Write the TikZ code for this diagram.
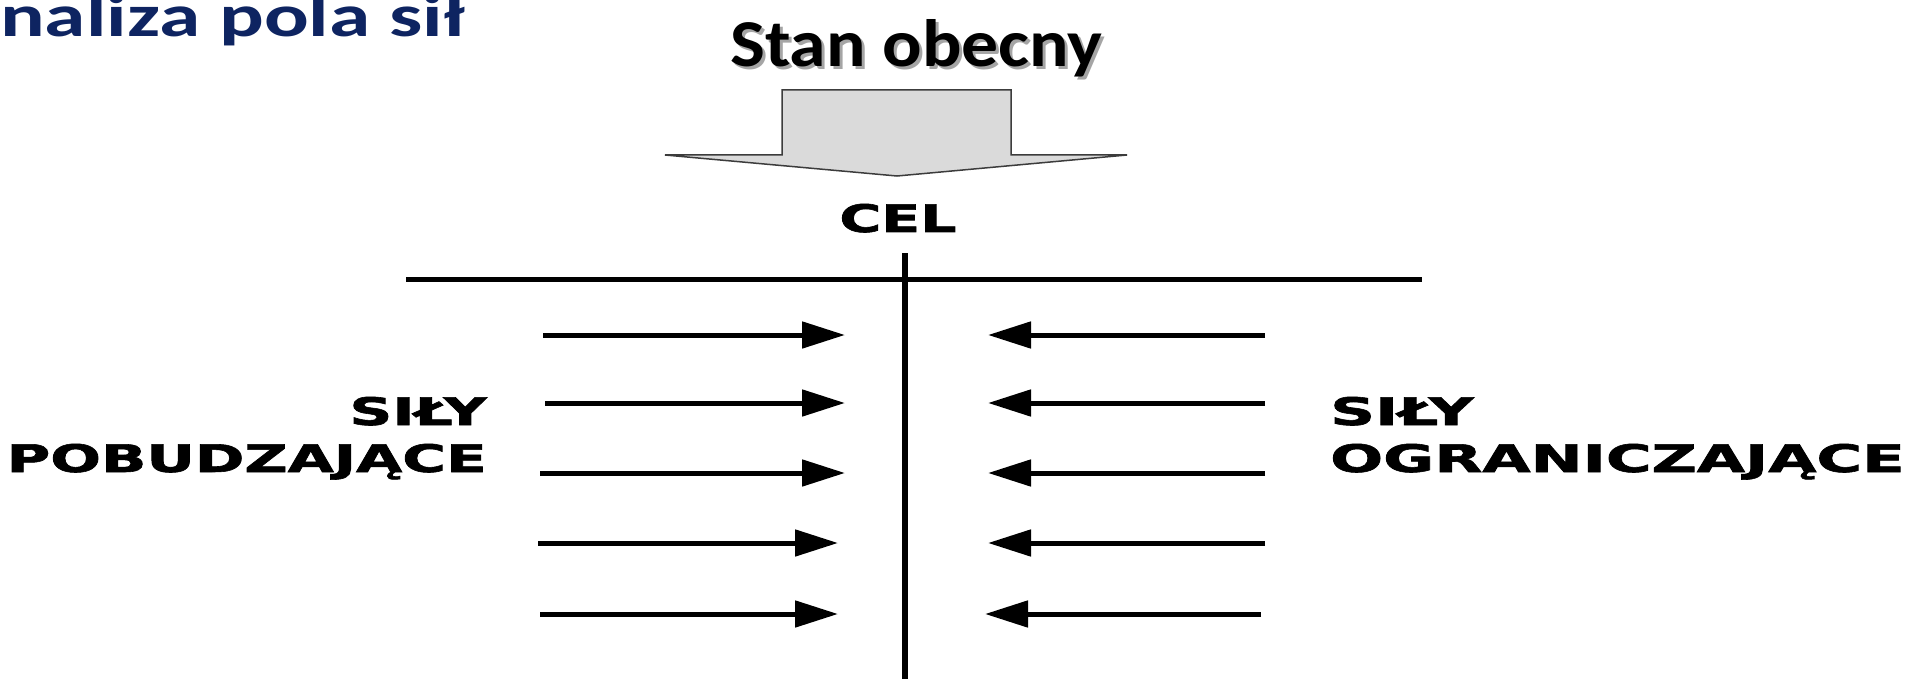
\documentclass[tikz,border=0pt]{standalone}
\usepackage{fontspec}
\usepackage{graphicx}
\setmainfont{Liberation Sans}
\newfontfamily\calibrifont{Carlito}
\newfontfamily\verdfont[FakeBold=1.5]{DejaVu Sans Bold}
\usetikzlibrary{arrows.meta}
\definecolor{titleblue}{RGB}{14,36,97}
\definecolor{arrowfill}{RGB}{218,218,218}
\definecolor{arrowedge}{RGB}{60,60,60}
\definecolor{shadowgray}{RGB}{165,165,165}
\begin{document}
\begin{tikzpicture}[x=1pt,y=-1pt,
  force/.style={line width=5pt, -{Triangle[length=43pt,width=26pt]}},
  axisline/.style={line width=5pt},
  lbl/.style={inner sep=0pt, font=\verdfont\fontsize{38}{47}\selectfont},
  headline/.style={inner sep=0pt, font=\calibrifont\bfseries\fontsize{67}{70}\selectfont},
]
\clip (0,0) rectangle (1919,679);
\fill[white] (0,0) rectangle (1919,679);
% title (cropped)
\node[inner sep=0pt, anchor=base west, text=titleblue,
      font=\calibrifont\bfseries\fontsize{60}{66}\selectfont] (title) at (0,37)
      {\scalebox{1.39}[1]{naliza pola sił}};
% Stan obecny with shadow
\node[headline, anchor=base west, text=shadowgray] (stanshadow) at (733,70)
      {\scalebox{1.1}[1]{Stan obecny}};
\node[headline, anchor=base west] (stan) at (730,67)
      {\scalebox{1.1}[1]{Stan obecny}};
% block arrow
\draw[fill=arrowfill, draw=arrowedge, line width=1.5pt, line join=miter]
  (782,90) -- (1011,90) -- (1011,155) -- (1127,155) -- (897,176)
  -- (665,155) -- (782,155) -- cycle;
% CEL
\node[lbl, anchor=base] (cel) at (898,232) {\scalebox{1.5}[1]{CEL}};
% axes
\coordinate (hL) at (406,279);
\coordinate (hR) at (1422,279);
\coordinate (vT) at (905,253);
\coordinate (vB) at (905,679);
\draw[axisline] (hL) -- (hR);
\draw[line width=6pt] (vT) -- (vB);
% forces
\foreach \i/\y/\lt/\ltip/\rt/\rtip in {1/335/543/845/1265/988, 2/403/545/845/1265/988, 3/473/540/845/1265/988, 4/543/538/838/1265/988, 5/614/540/838/1261/985}{
  \coordinate (ls\i) at (\lt,\y);
  \coordinate (le\i) at (\ltip,\y);
  \coordinate (rs\i) at (\rt,\y);
  \coordinate (re\i) at (\rtip,\y);
  \draw[force] (ls\i) -- (le\i);
  \draw[force] (rs\i) -- (re\i);
}
% labels
\node[lbl, anchor=base east] (left) at (487,425)
  {\scalebox{1.57}[1]{\begin{tabular}[t]{@{}r@{}}SIŁY\\POBUDZAJĄCE\end{tabular}}};
\node[lbl, anchor=base west] (right) at (1330,425)
  {\scalebox{1.64}[1]{\begin{tabular}[t]{@{}l@{}}SIŁY\\OGRANICZAJĄCE\end{tabular}}};
\end{tikzpicture}
\end{document}
